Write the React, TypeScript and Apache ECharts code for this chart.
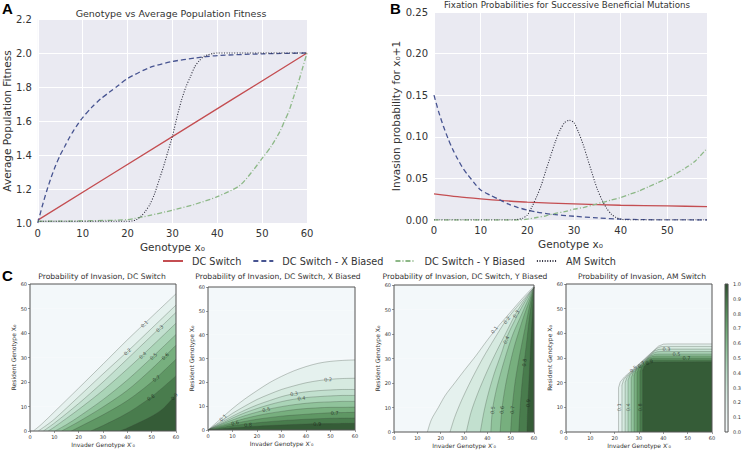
import React, { useEffect, useRef } from "react";
import * as echarts from "echarts";

const FONT = "DejaVu Sans";
const TEXT = "#333333";

// ---------- Panel A: Genotype vs Average Population Fitness ----------
const fitnessDC = [[0, 1.017], [30, 1.508], [60, 2.0]];
const fitnessX = [[0, 1.0], [1, 1.1], [2, 1.19], [3, 1.27], [4, 1.34], [5, 1.4], [6, 1.45], [7, 1.5], [8, 1.545], [9, 1.585], [10, 1.62], [12, 1.68], [14, 1.73], [16, 1.77], [18, 1.81], [20, 1.85], [25, 1.915], [30, 1.95], [35, 1.97], [40, 1.985], [50, 1.995], [60, 2.0]];
const fitnessY = [[0, 1.01], [10, 1.012], [15, 1.015], [20, 1.02], [25, 1.045], [30, 1.075], [35, 1.11], [40, 1.155], [45, 1.22], [48, 1.31], [50, 1.38], [52, 1.45], [54, 1.54], [55, 1.6], [56, 1.66], [57, 1.74], [58, 1.82], [59, 1.91], [60, 2.0]];
const fitnessAM = [[0, 1.01], [20, 1.01], [21, 1.012], [22, 1.02], [23, 1.04], [24, 1.07], [25, 1.11], [26, 1.17], [27, 1.25], [28, 1.33], [29, 1.42], [30, 1.51], [31, 1.62], [32, 1.72], [33, 1.8], [34, 1.86], [35, 1.92], [36, 1.955], [37, 1.98], [38, 1.99], [39, 1.997], [40, 2.0], [60, 2.0]];

// ---------- Panel B: Fixation probabilities ----------
const fixDC = [[0, 0.0315], [5, 0.028], [10, 0.0254], [15, 0.0232], [20, 0.0214], [30, 0.0194], [40, 0.0177], [50, 0.0169], [58.5, 0.0161]];
const fixX = [[0, 0.15], [1, 0.13], [2, 0.113], [3, 0.098], [4, 0.085], [5, 0.074], [6, 0.064], [7, 0.056], [8, 0.049], [9, 0.042], [10, 0.036], [12, 0.03], [14, 0.0245], [16, 0.019], [18, 0.015], [20, 0.012], [22, 0.0095], [25, 0.007], [30, 0.0045], [35, 0.0025], [40, 0.001], [45, 0.0004], [50, 0.0001], [58.5, 0]];
const fixY = [[0, 0], [18, 0], [20, 0.001], [22, 0.003], [24, 0.005], [26, 0.008], [28, 0.01], [30, 0.013], [32, 0.015], [34, 0.018], [36, 0.021], [38, 0.024], [40, 0.027], [42, 0.031], [44, 0.035], [46, 0.04], [48, 0.045], [50, 0.05], [52, 0.056], [54, 0.063], [56, 0.071], [58.5, 0.086]];
const fixAM = [[0, 0], [17, 0], [18, 0.0008], [19, 0.002], [20, 0.006], [21, 0.016], [22, 0.028], [23, 0.042], [24, 0.06], [25, 0.077], [26, 0.094], [27, 0.108], [28, 0.117], [29, 0.12], [30, 0.117], [31, 0.105], [32, 0.09], [33, 0.072], [34, 0.054], [35, 0.037], [36, 0.024], [37, 0.014], [38, 0.007], [39, 0.003], [40, 0.001], [41, 0], [58.5, 0]];

const seriesNames = ["DC Switch", "DC Switch - X Biased", "DC Switch - Y Biased", "AM Switch"];

// ---------- Panel C: contour lines (level -> [x', x0] points) ----------
const contourLevels = [0.1, 0.2, 0.3, 0.4, 0.5, 0.6, 0.7, 0.8, 0.9];

const dcContours = [
  [[1.4, 0], [5, 3], [10, 7.8], [20, 17.5], [30, 27.3], [40, 37.2], [50, 46.6], [60, 56]],
  [[3.4, 0], [7, 2.5], [10, 4.8], [20, 14], [30, 23.3], [40, 32.4], [50, 41.9], [60, 51.4]],
  [[5.5, 0], [10, 3.2], [20, 11.2], [30, 20], [40, 29.4], [50, 38.9], [60, 48.4]],
  [[7.5, 0], [10, 1.6], [20, 8.8], [30, 16.6], [40, 25.3], [50, 34.5], [60, 44]],
  [[10.3, 0], [15, 2.6], [20, 5.8], [30, 12.8], [40, 20.8], [50, 29.9], [60, 39.4]],
  [[13, 0], [20, 3.8], [30, 9.8], [40, 16.6], [50, 25.3], [60, 35]],
  [[17, 0], [20, 1.5], [30, 6.6], [40, 12.4], [50, 20], [60, 29.3]],
  [[25, 0], [30, 2.2], [40, 7.3], [50, 14], [60, 22.5]],
  [[37, 0], [40, 1.2], [50, 6], [55, 9.4], [60, 15]],
];
const xBiasedContours = [
  [[0, 0], [5, 4.5], [10, 9], [15, 13], [20, 16.5], [25, 19.8], [30, 22.5], [35, 24.8], [40, 26.6], [45, 28], [50, 28.8], [55, 29.2], [60, 29.4]],
  [[0, 0], [5, 3.5], [10, 7], [15, 10], [20, 12.8], [25, 15], [30, 17], [35, 18.5], [40, 19.8], [45, 20.7], [50, 21.3], [55, 21.6], [60, 21.7]],
  [[0, 0], [5, 3], [10, 5.8], [15, 8.3], [20, 10.5], [25, 12.3], [30, 14], [35, 15.2], [40, 16], [45, 16.5], [50, 16.8], [55, 17], [60, 17]],
  [[0, 0], [5, 2.5], [10, 5], [15, 7.2], [20, 9], [25, 10.6], [30, 11.9], [35, 12.9], [40, 13.6], [45, 14], [50, 14.3], [55, 14.5], [60, 14.5]],
  [[0, 0], [5, 2.2], [10, 4.2], [15, 6], [20, 7.5], [25, 8.8], [30, 9.8], [35, 10.6], [40, 11.2], [45, 11.6], [50, 11.8], [55, 12], [60, 12]],
  [[0, 0], [5, 1.8], [10, 3.3], [15, 4.8], [20, 6], [25, 7], [30, 7.8], [35, 8.5], [40, 9], [45, 9.3], [50, 9.5], [55, 9.5], [60, 9.6]],
  [[0, 0], [5, 1.4], [10, 2.6], [15, 3.6], [20, 4.5], [30, 5.8], [40, 6.6], [50, 7.2], [60, 7.4]],
  [[0, 0], [10, 1.8], [20, 3], [30, 3.9], [40, 4.5], [50, 4.9], [60, 5]],
  [[0, 0], [10, 0.9], [20, 1.6], [30, 2.1], [40, 2.5], [50, 2.7], [60, 2.8]],
];
const yBiasedContours = [
  [[14.3, 0], [16, 5], [19, 10], [22, 15], [26, 20], [30, 25], [35, 31], [40, 37.5], [45, 43.5], [50, 49], [55, 54.5], [60, 59.5]],
  [[24, 0], [26, 6], [29, 13], [33, 21], [38, 30], [43, 38], [48, 45.5], [54, 52.5], [60, 59]],
  [[31, 0], [33, 8], [36, 16], [40, 25], [44, 33], [48, 40.5], [52, 48], [56, 54], [60, 59]],
  [[37, 0], [38.5, 8], [40.5, 16], [43, 24], [46, 32], [48.5, 39], [52, 46], [56, 53], [60, 59]],
  [[41.5, 0], [42.2, 9], [43.8, 17], [46, 25], [48.5, 33], [51, 40], [54, 46.5], [57, 53], [60, 59]],
  [[45.5, 0], [46.2, 9], [47.6, 18], [49.3, 26], [51.3, 34], [53.5, 41], [55.7, 47.5], [58, 53.5], [60, 59]],
  [[50, 0], [50.6, 9], [51.7, 19], [53.2, 28], [54.8, 36], [56.4, 43.5], [58, 51], [60, 59]],
  [[53.5, 0], [54, 9], [54.8, 19], [55.8, 28.3], [57, 38], [58, 46.5], [59, 53], [60, 59]],
  [[57, 0], [57.3, 10], [57.8, 20], [58.3, 30], [58.8, 40], [59.4, 49.5], [60, 59]],
];
const amContours = [
  [[21.6, 0], [21.6, 18], [22.3, 20.3], [24, 22.3], [30, 27.6], [36, 33], [38, 34.8], [40, 35.6], [42, 35.7], [60, 35.7]],
  [[23, 0], [23, 19], [23.7, 21.2], [25.3, 23.1], [30.5, 27.8], [35.5, 32.3], [37.3, 33.9], [39, 34.6], [41, 34.7], [60, 34.7]],
  [[24.3, 0], [24.3, 20], [25, 22], [26.5, 23.8], [31, 27.9], [34.8, 31.4], [36.5, 32.9], [38.2, 33.5], [40, 33.6], [60, 33.6]],
  [[25.5, 0], [25.5, 21], [26.2, 22.9], [27.7, 24.6], [31.3, 27.9], [34.2, 30.6], [35.8, 31.9], [37.4, 32.5], [39, 32.6], [60, 32.6]],
  [[26.8, 0], [26.8, 22], [27.5, 23.8], [29, 25.4], [31.7, 28], [33.7, 29.9], [35.2, 31], [36.7, 31.5], [38.3, 31.6], [60, 31.6]],
  [[28, 0], [28, 23], [28.6, 24.7], [30, 26.2], [32.3, 28.4], [34, 29.9], [35.5, 30.6], [37, 30.8], [60, 30.8]],
  [[29.2, 0], [29.2, 24], [29.8, 25.6], [31.2, 27], [33, 28.7], [34.6, 29.7], [36, 30], [60, 30]],
  [[30.4, 0], [30.4, 24.5], [31, 26.2], [32.3, 27.6], [33.8, 28.7], [35.3, 29.2], [60, 29.2]],
  [[31.5, 0], [31.5, 25], [32.1, 26.7], [33.4, 27.9], [34.8, 28.4], [60, 28.5]],
];

// contour labels: [x', x0, text, rotation]
const dcLabels = [[47, 43.7, "0.1", 43], [40, 32.4, "0.2", 43], [53.2, 41.9, "0.3", 43], [46.3, 31, "0.4", 42], [50.7, 30.6, "0.5", 42], [55.5, 30.6, "0.6", 42], [51.8, 21.5, "0.7", 38], [49.6, 13.8, "0.8", 34], [59.2, 14.1, "0.9", 48]];
const xBiasedLabels = [[6.1, 5.2, "0.1", 42], [11, 3, "0.6", 15], [16.3, 2.3, "0.8", 6], [23.8, 8.6, "0.5", 12], [35.1, 15.3, "0.3", 9], [38.1, 13.4, "0.4", 7], [49, 21.3, "0.2", 3], [51.7, 7.2, "0.7", 2], [44.6, 2.6, "0.9", 2]];
const yBiasedLabels = [[42.9, 41.8, "0.1", 52], [48.3, 45.7, "0.2", 55], [52.2, 48.2, "0.3", 58], [48, 37.6, "0.4", 66], [42.2, 9, "0.5", 83], [46.2, 9, "0.6", 84], [50.6, 9, "0.7", 85], [55.8, 28.3, "0.8", 83], [57.4, 11.8, "0.9", 87]];
const amLabels = [[21.6, 10, "0.1", 90], [25.5, 10, "0.4", 90], [30.4, 10, "0.8", 90], [41.3, 33.6, "0.3", 0], [45.4, 31.6, "0.5", 0], [49.5, 30, "0.7", 0], [27.6, 25.6, "0.5", 45], [30.9, 27.4, "0.7", 40], [34.2, 28.4, "0.9", 25]];

const colorbarTicks = [0, 0.1, 0.2, 0.3, 0.4, 0.5, 0.6, 0.7, 0.8, 0.9, 1.0];
const colorbarValue = [1];

// colormap (style)
const cmap: [number, number[]][] = [
  [0.0, [245, 249, 251]],
  [0.1, [237, 245, 244]],
  [0.2, [224, 239, 234]],
  [0.3, [207, 231, 218]],
  [0.4, [186, 220, 199]],
  [0.5, [160, 206, 172]],
  [0.6, [134, 188, 143]],
  [0.7, [109, 166, 115]],
  [0.8, [86, 141, 90]],
  [0.9, [65, 113, 68]],
  [1.0, [45, 78, 46]],
];
function colorAt(v: number) {
  for (let i = 0; i < cmap.length - 1; i++) {
    const [a, ca] = cmap[i];
    const [b, cb] = cmap[i + 1];
    if (v >= a && v <= b) {
      const t = (v - a) / (b - a);
      const c = ca.map((x, k) => Math.round(x + (cb[k] - x) * t));
      return `rgb(${c[0]},${c[1]},${c[2]})`;
    }
  }
  const c = cmap[cmap.length - 1][1];
  return `rgb(${c[0]},${c[1]},${c[2]})`;
}

const lineColors = ["#C44E52", "#475491", "#8DB887", "#2b2b3a"];
const lineTypes: any[] = ["solid", [5, 3], [5, 2, 1, 2], [1, 1.6]];
const lineWidths = [1.3, 1.3, 1.3, 1.1];

function buildOption() {
  const topGridBase = { show: true, backgroundColor: "#EAEAF2", borderWidth: 0 };
  const cGridBase = { show: true, backgroundColor: "transparent", borderColor: "#555", borderWidth: 1, z: 10 };
  const grids = [
    { left: 34, top: 19, width: 273, height: 204, ...topGridBase },
    { left: 434, top: 12, width: 273, height: 208, ...topGridBase },
    { left: 30, top: 284, width: 146, height: 147, ...cGridBase },
    { left: 208, top: 287, width: 147, height: 143, ...cGridBase },
    { left: 394, top: 285, width: 140, height: 147, ...cGridBase },
    { left: 566, top: 284, width: 146, height: 148, ...cGridBase },
    { left: 725, top: 284, width: 6, height: 148, ...cGridBase },
  ];

  const topAxisLabel = { fontSize: 10, color: TEXT, fontFamily: FONT };
  const topName = { fontSize: 10.5, color: TEXT, fontFamily: FONT };
  const white = { show: true, lineStyle: { color: "#ffffff", width: 1 } };

  const cX = (gi: number) => ({
    type: "value", gridIndex: gi, min: 0, max: 60, interval: 10,
    axisLine: { show: false }, axisTick: { show: true, length: 2, lineStyle: { color: "#555", width: 0.6 } },
    splitLine: { show: false },
    axisLabel: { fontSize: 5, color: TEXT, fontFamily: FONT, margin: 3 },
    name: "Invader Genotype X\u2032\u2080", nameLocation: "middle", nameGap: 10,
    nameTextStyle: { fontSize: 6, color: TEXT, fontFamily: FONT },
  });
  const cY = (gi: number) => ({
    type: "value", gridIndex: gi, min: 0, max: 60, interval: 10,
    axisLine: { show: false }, axisTick: { show: true, length: 2, lineStyle: { color: "#555", width: 0.6 } },
    splitLine: { show: false },
    splitArea: { show: true, areaStyle: { color: [colorAt(0.02)] } },
    axisLabel: { fontSize: 5, color: TEXT, fontFamily: FONT, margin: 3 },
    name: "Resident Genotype X\u2080", nameLocation: "middle", nameGap: 12,
    nameTextStyle: { fontSize: 6, color: TEXT, fontFamily: FONT },
  });

  const xAxes: any[] = [
    {
      type: "value", gridIndex: 0, min: 0, max: 60, interval: 10,
      axisLine: { show: false }, axisTick: { show: false }, splitLine: white,
      axisLabel: { ...topAxisLabel, margin: 5 },
      name: "Genotype x\u2080", nameLocation: "middle", nameGap: 18, nameTextStyle: topName,
    },
    {
      type: "value", gridIndex: 1, min: 0, max: 58.5, interval: 10,
      axisLine: { show: false }, axisTick: { show: false }, splitLine: white,
      axisLabel: { ...topAxisLabel, margin: 5, formatter: (v: number) => (v % 10 === 0 ? String(v) : "") },
      name: "Genotype x\u2080", nameLocation: "middle", nameGap: 18, nameTextStyle: topName,
    },
    cX(2), cX(3), cX(4), cX(5),
    { type: "category", gridIndex: 6, data: [""], show: false },
  ];
  const yAxes: any[] = [
    {
      type: "value", gridIndex: 0, min: 1.0, max: 2.2, interval: 0.2,
      axisLine: { show: false }, axisTick: { show: false }, splitLine: white,
      axisLabel: { ...topAxisLabel, margin: 6, formatter: (v: number) => v.toFixed(1) },
      name: "Average Population Fitness", nameLocation: "middle", nameGap: 21, nameTextStyle: topName,
    },
    {
      type: "value", gridIndex: 1, min: 0, max: 0.25, interval: 0.05,
      axisLine: { show: false }, axisTick: { show: false }, splitLine: white,
      axisLabel: { ...topAxisLabel, margin: 6, formatter: (v: number) => v.toFixed(2) },
      name: "Invasion probability for x\u2080+1", nameLocation: "middle", nameGap: 32, nameTextStyle: topName,
    },
    cY(2), cY(3), cY(4), cY(5),
    {
      type: "value", gridIndex: 6, position: "right", min: 0, max: 1, interval: 0.1,
      axisLine: { show: false }, axisTick: { show: false }, splitLine: { show: false },
      axisLabel: { fontSize: 5, color: TEXT, fontFamily: FONT, margin: 5, formatter: (v: number) => v.toFixed(1) },
    },
  ];

  const series: any[] = [];
  const topData = [
    [fitnessDC, fitnessX, fitnessY, fitnessAM],
    [fixDC, fixX, fixY, fixAM],
  ];
  topData.forEach((group, gi) => {
    group.forEach((d, i) => {
      series.push({
        type: "line", name: seriesNames[i], xAxisIndex: gi, yAxisIndex: gi,
        data: d, symbol: "none", showSymbol: false, smooth: 0.25, silent: true,
        lineStyle: { color: lineColors[i], type: lineTypes[i], width: lineWidths[i] },
        itemStyle: { color: lineColors[i] },
        z: i === 0 ? 3 : 4,
      });
    });
  });

  const panels = [
    { gi: 2, lines: dcContours, labels: dcLabels, smooth: 0.3 },
    { gi: 3, lines: xBiasedContours, labels: xBiasedLabels, smooth: 0.3 },
    { gi: 4, lines: yBiasedContours, labels: yBiasedLabels, smooth: 0.3 },
    { gi: 5, lines: amContours, labels: amLabels, smooth: 0 },
  ];
  panels.forEach((p) => {
    p.lines.forEach((pts, li) => {
      const lvl = contourLevels[li];
      series.push({
        type: "line", xAxisIndex: p.gi, yAxisIndex: p.gi, data: pts, symbol: "none",
        smooth: p.smooth || false, silent: true, clip: true,
        lineStyle: { color: "#3d4a3d", width: 0.55, opacity: 0.55 },
        areaStyle: { color: colorAt(Math.min(lvl + 0.06, 1)), opacity: 1, origin: "start" },
        z: 2,
      });
    });
    series.push({
      type: "scatter", xAxisIndex: p.gi, yAxisIndex: p.gi, symbolSize: 0, silent: true, z: 6,
      data: p.labels.map((l: any) => ({
        value: [l[0], l[1]], name: l[2],
        label: { rotate: l[3], color: Number(l[2]) >= 0.6 ? "#1d2a1d" : "#333" },
      })),
      label: { show: true, position: "inside", formatter: "{b}", fontSize: 5, fontFamily: FONT },
    });
  });

  series.push({
    type: "bar", xAxisIndex: 6, yAxisIndex: 6, data: colorbarValue, barWidth: "100%", silent: true,
    itemStyle: {
      color: new echarts.graphic.LinearGradient(0, 1, 0, 0,
        colorbarTicks.map((t) => ({ offset: t, color: colorAt(t) }))),
    },
  });

  const titleStyle = (text: string, x: number, y: number, size: number) => ({
    type: "text", x, y,
    style: { text, fontSize: size, fontFamily: FONT, fill: TEXT, align: "center", verticalAlign: "middle" },
  });
  const letter = (text: string, x: number, y: number) => ({
    type: "text", x, y,
    style: { text, fontSize: 15, fontWeight: "bold", fontFamily: "Liberation Sans", fill: "#000", align: "left", verticalAlign: "middle" },
  });

  return {
    animation: false,
    backgroundColor: "#ffffff",
    textStyle: { fontFamily: FONT },
    grid: grids,
    xAxis: xAxes,
    yAxis: yAxes,
    legend: {
      data: seriesNames, top: 251, left: 157, itemWidth: 20, itemHeight: 10, itemGap: 11,
      itemStyle: { opacity: 0, borderWidth: 0 },
      textStyle: { fontSize: 9.7, color: TEXT, fontFamily: FONT, padding: [0, 0, 0, 4] }, selectedMode: false,
    },
    graphic: [
      letter("A", 2, 8),
      letter("B", 390, 8),
      letter("C", 2, 275),
      titleStyle("Genotype vs Average Population Fitness", 171, 13, 9.5),
      titleStyle("Fixation Probabilities for Successive Beneficial Mutations", 567, 5, 8.7),
      titleStyle("Probability of Invasion, DC Switch", 102, 276, 7.6),
      titleStyle("Probability of Invasion, DC Switch, X Biased", 278, 276, 7.6),
      titleStyle("Probability of Invasion, DC Switch, Y Biased", 465, 276, 7.6),
      titleStyle("Probability of Invasion, AM Switch", 642, 276, 7.6),
    ],
    series,
  };
}

export default function App() {
  const ref = useRef<HTMLDivElement>(null);
  useEffect(() => {
    if (!ref.current) return;
    const chart = echarts.init(ref.current, null, { renderer: "svg" });
    chart.setOption(buildOption() as any);
    return () => chart.dispose();
  }, []);
  return <div ref={ref} style={{ position: "fixed", left: 0, top: 0, width: 744, height: 450 }} />;
}
